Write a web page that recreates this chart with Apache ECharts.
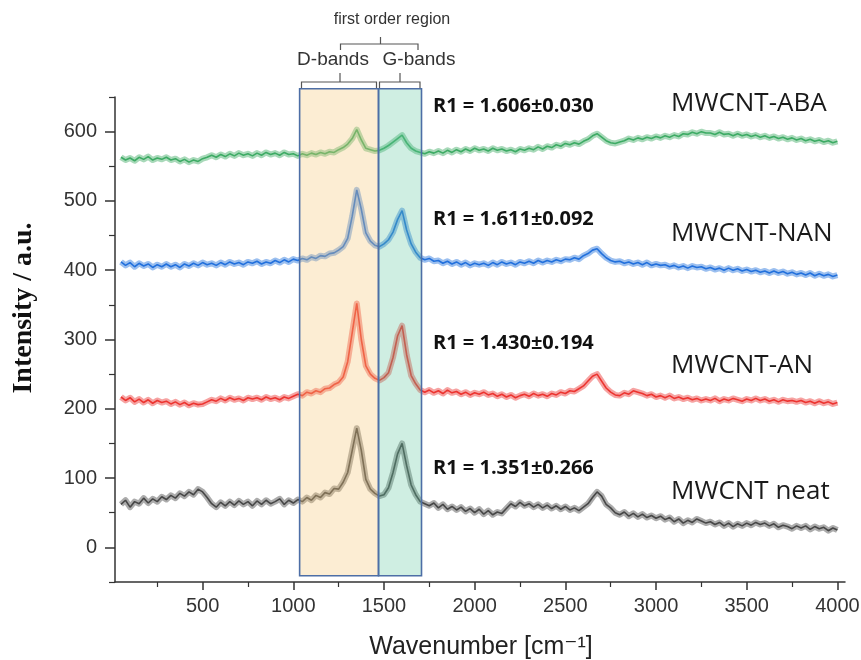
<!DOCTYPE html>
<html>
<head>
    <meta charset="utf-8">
    <title>Raman spectra MWCNT</title>
    <script src="https://cdn.jsdelivr.net/npm/echarts@6/dist/echarts.min.js"></script>
    <style>
        html, body { margin: 0; padding: 0; background: #fff; }
        #chart { width: 861px; height: 660px; }
    </style>
</head>
<body>
    <div id="chart"></div>
    <script>
        // wavenumber grid of the sampled points: 50, 75, ... 4000 cm-1
        const wnStart = 50;
        const wnStep = 25;

        // values, 10 points per row (250 cm-1 per row)
        const neatVals = [
            62, 68, 58, 66, 63, 71, 64, 70, 66, 73,
            69, 75, 71, 78, 74, 80, 76, 84, 80, 72,
            63, 58, 65, 60, 66, 61, 67, 62, 66, 60,
            67, 62, 68, 63, 66, 70, 62, 68, 64, 69,
            66, 72, 68, 75, 72, 79, 77, 85, 84, 94,
            108, 140, 172, 140, 98, 84, 78, 74, 76, 86,
            108, 135, 150, 118, 90, 76, 66, 63, 60, 64,
            57, 62, 55, 59, 54, 58, 52, 56, 50, 55,
            48, 53, 47, 51, 49, 56, 63, 59, 65, 60,
            63, 58, 62, 57, 61, 56, 60, 55, 59, 54,
            57, 53, 58, 63, 72, 80, 74, 62, 57, 50,
            47, 51, 45, 49, 44, 48, 43, 46, 42, 45,
            40, 43, 37, 41, 35, 39, 36, 41, 38, 35,
            37, 33, 36, 31, 35, 30, 34, 31, 35, 32,
            36, 33, 35, 31, 34, 29, 32, 30, 27, 31,
            28, 31, 26, 30, 27, 29, 24, 28, 25
        ];
        const anVals = [
            217, 212, 216, 210, 214, 209, 213, 208, 212, 209,
            211, 207, 210, 206, 209, 205, 208, 206, 207, 210,
            213, 211, 215, 212, 216, 213, 215, 212, 216, 214,
            216, 213, 217, 214, 216, 213, 217, 215, 218, 221,
            219, 224, 222, 226, 224, 229, 230, 235, 238, 246,
            268, 310, 352, 300, 262, 250, 244, 241, 245, 252,
            274, 305, 320, 278, 248, 236, 227, 224, 227, 223,
            226, 222, 227, 223, 225, 221, 224, 220, 223, 221,
            224, 220, 222, 218, 221, 217, 220, 216, 219, 221,
            218, 222, 219, 221, 218, 222, 220, 224, 222, 226,
            225, 229, 233, 240, 247, 250, 240, 230, 224, 220,
            219, 223, 221, 226, 224, 222, 219, 221, 217, 219,
            216, 219, 215, 217, 214, 216, 213, 215, 212, 214,
            212, 215, 211, 214, 212, 215, 213, 211, 214, 212,
            215, 212, 214, 211, 213, 210, 213, 211, 212, 210,
            212, 209, 211, 208, 211, 208, 210, 207, 209
        ];
        const nanVals = [
            412, 407, 411, 405, 410, 406, 409, 404, 408, 405,
            409, 405, 408, 404, 409, 406, 410, 407, 411, 408,
            410, 407, 411, 408, 412, 409, 411, 408, 412, 410,
            413, 409, 412, 410, 414, 411, 415, 412, 416, 414,
            417, 415, 419, 417, 421, 420, 424, 425, 429, 434,
            446, 478, 516, 488, 454, 442, 436, 434, 438, 444,
            455, 473, 486, 458, 438, 426, 418, 415, 417, 413,
            414, 410, 413, 409, 412, 408, 411, 407, 410, 408,
            410, 407, 411, 408, 412, 409, 411, 408, 412, 410,
            413, 410, 414, 411, 414, 412, 415, 413, 416, 415,
            418, 416, 421, 424, 429, 431, 424, 418, 414, 412,
            413, 410, 412, 409, 411, 408, 411, 407, 409, 407,
            408, 405, 407, 404, 406, 403, 406, 404, 405, 402,
            404, 401, 403, 400, 403, 400, 402, 399, 401, 398,
            400, 397, 399, 396, 399, 396, 398, 395, 397, 394,
            396, 393, 396, 392, 395, 392, 394, 391, 393
        ];
        const abaVals = [
            563, 559, 562, 558, 563, 560, 564, 559, 562, 560,
            563, 559, 561, 557, 560, 556, 559, 557, 561, 563,
            566, 563, 567, 564, 568, 565, 569, 566, 568, 565,
            569, 566, 570, 567, 569, 566, 570, 567, 568, 565,
            568, 566, 569, 567, 570, 568, 571, 570, 574, 577,
            582, 590, 603, 588, 576, 574, 572, 573, 576, 580,
            585, 590, 595, 584, 576, 572, 570, 568, 571, 569,
            572, 569, 573, 570, 574, 571, 575, 572, 576, 573,
            575, 572, 576, 573, 575, 572, 574, 571, 575, 573,
            576, 574, 578, 575, 579, 577, 581, 579, 583, 581,
            584, 582, 586, 589, 594, 597, 592, 587, 584, 583,
            585, 587, 590, 588, 591, 589, 592, 590, 593, 591,
            594, 592, 595, 593, 597, 596, 599, 597, 600, 598,
            598, 596, 599, 596, 597, 594, 597, 594, 596, 593,
            595, 592, 594, 591, 593, 590, 592, 589, 591, 588,
            590, 587, 589, 586, 588, 585, 587, 584, 586
        ];

        const seriesNames = ['MWCNT neat', 'MWCNT-AN', 'MWCNT-NAN', 'MWCNT-ABA'];
        const seriesColors = ['#474747', '#ec3430', '#2270dc', '#3dab64'];
        const r1Labels = ['R1 = 1.351±0.266', 'R1 = 1.430±0.194', 'R1 = 1.611±0.092', 'R1 = 1.606±0.030'];

        // axis ticks
        const xMajorTicks = [500, 1000, 1500, 2000, 2500, 3000, 3500, 4000];
        const xMinorTicks = [250, 750, 1250, 1750, 2250, 2750, 3250, 3750];
        const yMajorTicks = [0, 100, 200, 300, 400, 500, 600];
        const yMinorTicks = [-50, 50, 150, 250, 350, 450, 550, 650];

        // first order region boxes (D-bands, G-bands)
        const bandRanges = [[1035, 1470], [1470, 1707]];
        const bandBottom = -41;
        const bandTop = 662;
        const bandFills = ['rgba(245, 198, 118, 0.32)', 'rgba(95, 200, 158, 0.3)'];

        function toPairs(vals) {
            return vals.map((v, i) => [wnStart + i * wnStep, v]);
        }

        const chart = echarts.init(document.getElementById('chart'), null, { renderer: 'canvas' });

        const axisTxt = { color: '#333', fontFamily: 'Liberation Sans, Arial', fontSize: 20, formatter: v => String(v) };
        const axisLn = { show: true, onZero: false, lineStyle: { color: '#333', width: 1.5 } };

        // each spectrum: a soft wide band (noise spread) under a thin trace
        const lineSeries = [];
        [neatVals, anVals, nanVals, abaVals].forEach((vals, i) => {
            const pts = toPairs(vals);
            lineSeries.push({
                name: seriesNames[i] + ' band',
                type: 'line',
                data: pts,
                showSymbol: false,
                symbol: 'none',
                silent: true,
                lineStyle: { color: seriesColors[i], width: 6, opacity: 0.45, join: 'round' },
                z: 2
            });
            lineSeries.push({
                name: seriesNames[i],
                type: 'line',
                data: pts,
                showSymbol: false,
                symbol: 'none',
                lineStyle: { color: seriesColors[i], width: 1.6 },
                z: 3
            });
        });

        const labelText = [];
        const r1Pos = [468.7, 343.7, 219, 106.3];
        const namePos = [491.5, 366, 234, 104];
        for (let i = 0; i < 4; i++) {
            labelText.push({
                type: 'text', x: 433, y: r1Pos[i],
                style: { text: r1Labels[i], fill: '#111', fontFamily: 'Open Sans', fontWeight: 'bold',
                         fontSize: 20, textAlign: 'left', textVerticalAlign: 'middle', align: 'left', verticalAlign: 'middle' }
            });
            labelText.push({
                type: 'text', x: 671, y: namePos[i],
                style: { text: seriesNames[i], fill: '#1a1a1a', fontFamily: 'Open Sans',
                         fontSize: 26, textAlign: 'left', textVerticalAlign: 'middle', align: 'left', verticalAlign: 'middle' }
            });
        }

        const bracketStyle = { stroke: '#555', lineWidth: 1.2, fill: null };
        const brackets = [
            { type: 'polyline', shape: { points: [[301.5, 88], [301.5, 82], [376.5, 82], [376.5, 88]] }, style: bracketStyle },
            { type: 'polyline', shape: { points: [[340, 82], [340, 73]] }, style: bracketStyle },
            { type: 'polyline', shape: { points: [[379.5, 88], [379.5, 82], [420, 82], [420, 88]] }, style: bracketStyle },
            { type: 'polyline', shape: { points: [[400, 82], [400, 73]] }, style: bracketStyle },
            { type: 'polyline', shape: { points: [[340.5, 50], [340.5, 44], [418, 44], [418, 50]] }, style: bracketStyle },
            { type: 'polyline', shape: { points: [[380.5, 44], [380.5, 37]] }, style: bracketStyle },
            { type: 'text', x: 392, y: 19.5,
              style: { text: 'first order region', fill: '#333', fontFamily: 'Liberation Sans', fontSize: 16,
                       textAlign: 'center', textVerticalAlign: 'middle', align: 'center', verticalAlign: 'middle' } },
            { type: 'text', x: 333, y: 60,
              style: { text: 'D-bands', fill: '#333', fontFamily: 'Liberation Sans', fontSize: 19,
                       textAlign: 'center', textVerticalAlign: 'middle', align: 'center', verticalAlign: 'middle' } },
            { type: 'text', x: 419, y: 60,
              style: { text: 'G-bands', fill: '#333', fontFamily: 'Liberation Sans', fontSize: 19,
                       textAlign: 'center', textVerticalAlign: 'middle', align: 'center', verticalAlign: 'middle' } }
        ];

        const titles = [
            { type: 'text', x: 24, y: 308, rotation: Math.PI / 2,
              style: { text: 'Intensity / a.u.', fill: '#111', fontFamily: 'Liberation Serif', fontWeight: 'bold',
                       fontSize: 28, textAlign: 'center', textVerticalAlign: 'middle', align: 'center', verticalAlign: 'middle' } },
            { type: 'text', x: 481, y: 647,
              style: { text: 'Wavenumber [cm⁻¹]', fill: '#222', fontFamily: 'Liberation Sans, DejaVu Sans',
                       fontSize: 25, textAlign: 'center', textVerticalAlign: 'middle', align: 'center', verticalAlign: 'middle' } }
        ];

        const option = {
            animation: false,
            backgroundColor: '#fff',
            grid: { left: 115, right: 16, top: 97, bottom: 78, containLabel: false, outerBoundsMode: 'none' },
            xAxis: [{
                type: 'value', min: 17, max: 4042, position: 'bottom',
                axisLine: axisLn,
                axisTick: { show: true, length: 8, inside: false, customValues: xMajorTicks, lineStyle: { color: '#333', width: 1.5 } },
                axisLabel: { show: true, margin: 14, customValues: xMajorTicks, ...axisTxt },
                splitLine: { show: false }
            }, {
                type: 'value', min: 17, max: 4042, position: 'bottom', offset: 0,
                axisLine: { show: false, onZero: false },
                axisTick: { show: true, length: 5, inside: false, customValues: xMinorTicks, lineStyle: { color: '#333', width: 1.2 } },
                axisLabel: { show: false },
                splitLine: { show: false }
            }],
            yAxis: [{
                type: 'value', min: -50, max: 650, position: 'left',
                axisLine: axisLn,
                axisTick: { show: true, length: 10, inside: false, customValues: yMajorTicks, lineStyle: { color: '#333', width: 1.5 } },
                axisLabel: { show: true, margin: 18, customValues: yMajorTicks, ...axisTxt },
                splitLine: { show: false }
            }, {
                type: 'value', min: -50, max: 650, position: 'left', offset: 0,
                axisLine: { show: false, onZero: false },
                axisTick: { show: true, length: 6, inside: false, customValues: yMinorTicks, lineStyle: { color: '#333', width: 1.2 } },
                axisLabel: { show: false },
                splitLine: { show: false }
            }],
            series: lineSeries.concat([{
                name: 'bands',
                type: 'custom',
                clip: false,
                z: 5,
                silent: true,
                data: bandRanges,
                encode: { x: [0, 1] },
                renderItem: function (params, api) {
                    const p0 = api.coord([api.value(0), bandTop]);
                    const p1 = api.coord([api.value(1), bandBottom]);
                    return {
                        type: 'rect',
                        shape: { x: p0[0], y: p0[1], width: p1[0] - p0[0], height: p1[1] - p0[1] },
                        style: { fill: bandFills[params.dataIndex], stroke: '#4d6ea6', lineWidth: 1.6 }
                    };
                }
            }]),
            graphic: brackets.concat(labelText, titles)
        };

        chart.setOption(option);
    </script>
</body>
</html>
